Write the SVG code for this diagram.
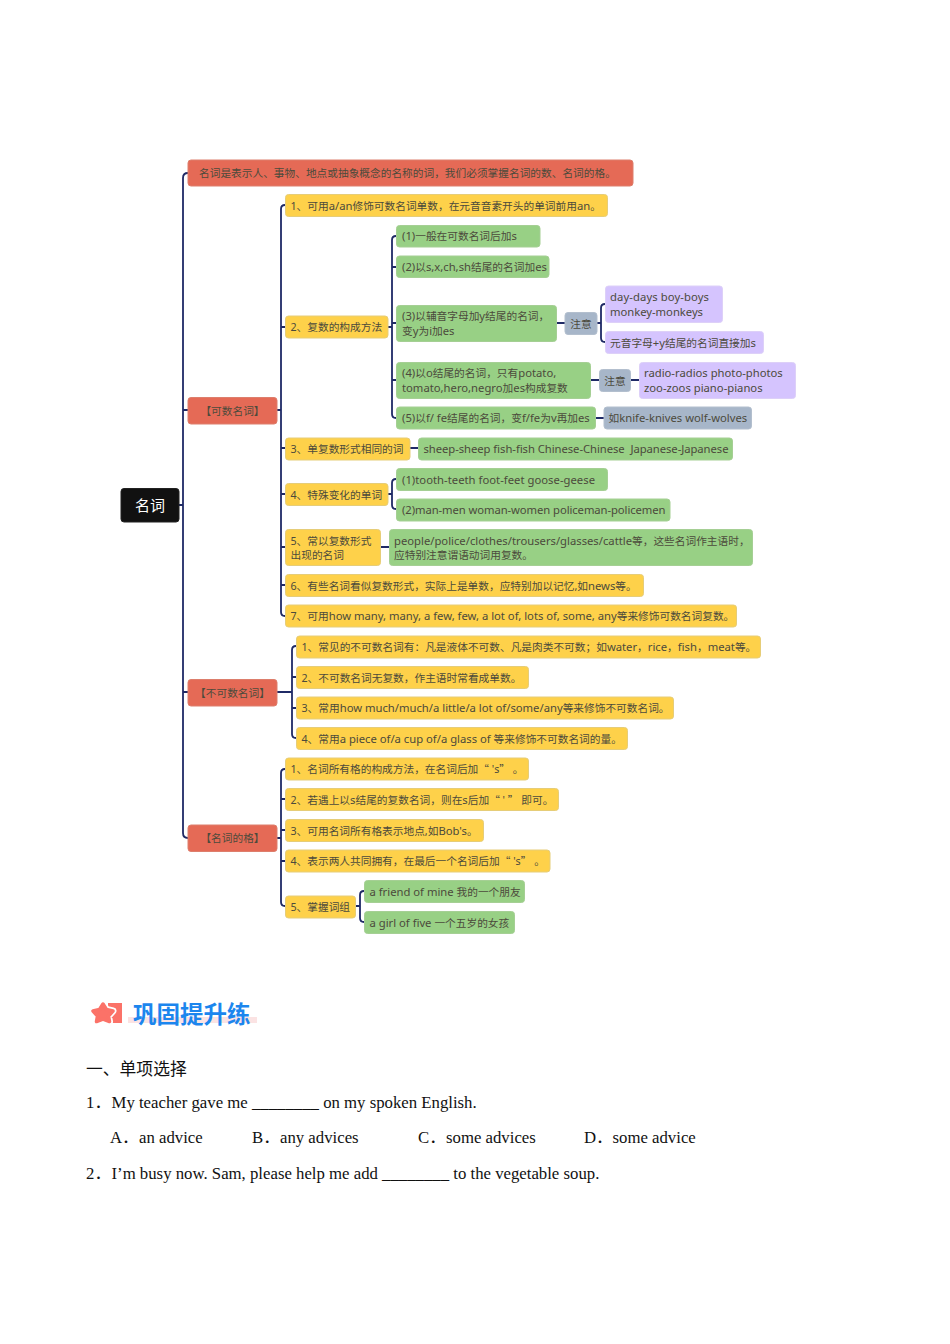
<svg xmlns="http://www.w3.org/2000/svg" width="950" height="1344" viewBox="0 0 950 1344">
<defs><path id="star" d="M103 1004L106.500 1009.500L113 1011L108.500 1016L109.500 1021.500L103 1019L96.500 1021.500L97.500 1016L93 1011L99.500 1009.500Z"/></defs>
<style>
text{font-family:"Noto Sans","Noto Sans CJK SC",sans-serif;font-size:10.7px;fill:#4c4a3c}
.l{font-size:11.25px}
.q{font-family:"Noto Sans CJK SC",sans-serif;font-size:10.7px}
.n{stroke-width:1}
.r{fill:#e56a56;stroke:#dd7e6c}
.y{fill:#fed14a;stroke:#e6cd78}
.g{fill:#98d085;stroke:#a5cf94}
.p{fill:#d5c4fe;stroke:#ddd0f8}
.s{fill:#a7b6c9;stroke:#b3bfce}
.k{fill:#111;stroke:#222}
#links path{fill:none;stroke:#1f2a66;stroke-width:1.8}
.b{font-family:"Liberation Serif","Noto Sans CJK SC",serif;font-size:16.75px;fill:#111}
.t{font-family:"Noto Sans CJK SC",sans-serif;font-size:16.8px;fill:#111}
</style>
<g id="links">
<path d="M179 505H183M188 173Q183 173 183 178V833Q183 838 188 838M183 410H188M183 692H188"/>
<path d="M277 410H281M285 205Q281 205 281 209V612Q281 616 285 616M281 327H285M281 448H285M281 494H285M281 547H285M281 585H285"/>
<path d="M388 327H392M396 236Q392 236 392 240V414Q392 418 396 418M392 267H396M392 323H396M392 380H396"/>
<path d="M556 323H565M597 323H601M605 304Q601 304 601 308V338Q601 342 605 342"/>
<path d="M591 380H599M631 380H639M595 418H604M410 448H418"/>
<path d="M388 494H392M396 479Q392 479 392 483V505Q392 509 396 509M381 547H389"/>
<path d="M277 692H292M296 646Q292 646 292 650V734Q292 738 296 738M292 677H296M292 708H296"/>
<path d="M277 838H281M285 769Q281 769 281 773V902Q281 906 285 906M281 799H285M281 830H285M281 861H285"/>
<path d="M356 906H360M364 891Q360 891 360 895V918Q360 922 364 922"/>
</g>
<g id="root"><rect class="n k" x="121" y="488.500" width="58" height="33.500" rx="3"/><text x="150" y="510.500" text-anchor="middle" style="font-size:15px;fill:#fff">名词</text></g>
<g id="def"><rect class="n r" x="188" y="160" width="445" height="26" rx="3"/><text x="199" y="176.500">名词是表示人、事物、地点或抽象概念的名称的词&#65292;我们必须掌握名词的数、名词的格。</text></g>
<g id="countable"><rect class="n r" x="188" y="397.500" width="89" height="26.500" rx="3"/><text x="232.500" y="414.500" text-anchor="middle">【可数名词】</text></g>
<g id="uncountable"><rect class="n r" x="188" y="679.500" width="89" height="26.500" rx="3"/><text x="232.500" y="696.500" text-anchor="middle">【不可数名词】</text></g>
<g id="possessive"><rect class="n r" x="188" y="825" width="89" height="26.500" rx="3"/><text x="232.500" y="841.500" text-anchor="middle">【名词的格】</text></g>
<g id="c1"><rect class="n y" x="285.500" y="194.500" width="322" height="22" rx="3"/><text x="290.500" y="209.500">1、可用<tspan class="l">a/an</tspan>修饰可数名词单数&#65292;在元音音素开头的单词前用<tspan class="l">an</tspan>。</text></g>
<g id="c2"><rect class="n y" x="285.500" y="316" width="102.500" height="22" rx="3"/><text x="290.500" y="331">2、复数的构成方法</text></g>
<g id="c21"><rect class="n g" x="396.500" y="225.500" width="143.500" height="21.500" rx="3"/><text x="402" y="240"><tspan class="l">(1)</tspan>一般在可数名词后加<tspan class="l">s</tspan></text></g>
<g id="c22"><rect class="n g" x="396.500" y="256" width="152.500" height="21.500" rx="3"/><text x="402" y="270.500"><tspan class="l">(2)</tspan>以<tspan class="l">s,x,ch,sh</tspan>结尾的名词加<tspan class="l">es</tspan></text></g>
<g id="c23"><rect class="n g" x="396.500" y="305.500" width="160" height="36" rx="3"/><text x="402" y="320"><tspan class="l">(3)</tspan>以辅音字母加<tspan class="l">y</tspan>结尾的名词&#65292;<tspan x="402" dy="14.500">变<tspan class="l">y</tspan>为<tspan class="l">i</tspan>加<tspan class="l">es</tspan></tspan></text></g>
<g id="c23n"><rect class="n s" x="565" y="312.500" width="32" height="22" rx="3"/><text x="581" y="327.500" text-anchor="middle">注意</text></g>
<g id="c23a"><rect class="n p" x="605.500" y="286" width="117" height="36.500" rx="3"/><text class="l" x="610" y="301" textLength="99">day-days boy-boys</text><text class="l" x="610" y="315.500" textLength="93">monkey-monkeys</text></g>
<g id="c23b"><rect class="n p" x="605.500" y="331.500" width="158" height="22" rx="3"/><text x="610" y="346.500">元音字母<tspan class="l">+y</tspan>结尾的名词直接加<tspan class="l">s</tspan></text></g>
<g id="c24"><rect class="n g" x="396.500" y="362.500" width="194" height="36" rx="3"/><text x="402" y="377"><tspan class="l">(4)</tspan>以<tspan class="l">o</tspan>结尾的名词&#65292;只有<tspan class="l">potato,</tspan><tspan x="402" dy="14.500" class="l">tomato,hero,negro<tspan style="font-size:10.7px">加</tspan>es<tspan style="font-size:10.7px">构成复数</tspan></tspan></text></g>
<g id="c24n"><rect class="n s" x="599.500" y="369.500" width="31" height="22" rx="3"/><text x="615" y="384.500" text-anchor="middle">注意</text></g>
<g id="c24a"><rect class="n p" x="639.500" y="362.500" width="156" height="36" rx="3"/><text class="l" x="644" y="377">radio-radios photo-photos<tspan x="644" dy="14.500">zoo-zoos piano-pianos</tspan></text></g>
<g id="c25"><rect class="n g" x="396.500" y="407" width="199" height="22" rx="3"/><text x="402" y="422"><tspan class="l">(5)</tspan>以<tspan class="l">f/ fe</tspan>结尾的名词&#65292;变<tspan class="l">f/fe</tspan>为<tspan class="l">v</tspan>再加<tspan class="l">es</tspan></text></g>
<g id="c25a"><rect class="n s" x="604" y="407" width="147.500" height="22" rx="3"/><text x="608.500" y="422">如<tspan class="l">knife-knives wolf-wolves</tspan></text></g>
<g id="c3"><rect class="n y" x="285.500" y="438" width="124.500" height="22" rx="3"/><text x="290.500" y="453">3、单复数形式相同的词</text></g>
<g id="c3a"><rect class="n g" x="418.500" y="438" width="314" height="22" rx="3"/><text class="l" x="423.500" y="453" xml:space="preserve" textLength="305">sheep-sheep fish-fish Chinese-Chinese  Japanese-Japanese</text></g>
<g id="c4"><rect class="n y" x="285.500" y="483.500" width="102.500" height="22" rx="3"/><text x="290.500" y="498.500">4、特殊变化的单词</text></g>
<g id="c41"><rect class="n g" x="396.500" y="468.500" width="211" height="22" rx="3"/><text class="l" x="402" y="483.500" textLength="193">(1)tooth-teeth foot-feet goose-geese</text></g>
<g id="c42"><rect class="n g" x="396.500" y="499" width="273.500" height="22" rx="3"/><text class="l" x="402" y="514" textLength="263.500">(2)man-men woman-women policeman-policemen</text></g>
<g id="c5"><rect class="n y" x="285.500" y="529.500" width="95" height="36" rx="3"/><text x="290.500" y="544.500">5、常以复数形式<tspan x="290.500" dy="14.500">出现的名词</tspan></text></g>
<g id="c5a"><rect class="n g" x="389.500" y="529.500" width="363" height="36" rx="3"/><text x="394" y="544.500"><tspan class="l">people/police/clothes/trousers/glasses/cattle</tspan>等&#65292;这些名词作主语时&#65292;<tspan x="394" dy="14.500">应特别注意谓语动词用复数。</tspan></text></g>
<g id="c6"><rect class="n y" x="285.500" y="574.500" width="358" height="22" rx="3"/><text x="290.500" y="589.500">6、有些名词看似复数形式&#65292;实际上是单数&#65292;应特别加以记忆,如<tspan class="l">news</tspan>等。</text></g>
<g id="c7"><rect class="n y" x="285.500" y="605" width="451" height="22" rx="3"/><text x="290.500" y="620">7、可用<tspan class="l">how many, many, a few, few, a lot of, lots of, some, any</tspan>等来修饰可数名词复数。</text></g>
<g id="u1"><rect class="n y" x="296.500" y="636" width="464" height="22" rx="3"/><text x="301.500" y="651">1、常见的不可数名词有&#65306;凡是液体不可数、凡是肉类不可数&#65307;如<tspan class="l">water</tspan>&#65292;<tspan class="l">rice</tspan>&#65292;<tspan class="l">fish</tspan>&#65292;<tspan class="l">meat</tspan>等。</text></g>
<g id="u2"><rect class="n y" x="296.500" y="666.500" width="232" height="22" rx="3"/><text x="301.500" y="681.500">2、不可数名词无复数&#65292;作主语时常看成单数。</text></g>
<g id="u3"><rect class="n y" x="296.500" y="697" width="377" height="22" rx="3"/><text x="301.500" y="712">3、常用<tspan class="l">how much/much/a little/a lot of/some/any</tspan>等来修饰不可数名词。</text></g>
<g id="u4"><rect class="n y" x="296.500" y="727.500" width="331" height="22" rx="3"/><text x="301.500" y="742.500">4、常用<tspan class="l">a piece of/a cup of/a glass of </tspan>等来修饰不可数名词的量。</text></g>
<g id="p1"><rect class="n y" x="285.500" y="758" width="243" height="22" rx="3"/><text x="290.500" y="773" xml:space="preserve">1、名词所有格的构成方法&#65292;在名词后加<tspan class="q">“</tspan> 's<tspan class="q">”</tspan> 。</text></g>
<g id="p2"><rect class="n y" x="285.500" y="788.500" width="273" height="22" rx="3"/><text x="290.500" y="803.500" xml:space="preserve">2、若遇上以<tspan class="l">s</tspan>结尾的复数名词&#65292;则在<tspan class="l">s</tspan>后加<tspan class="q">“</tspan> ' <tspan class="q">”</tspan> 即可。</text></g>
<g id="p3"><rect class="n y" x="285.500" y="819.500" width="198" height="22" rx="3"/><text x="290.500" y="834.500">3、可用名词所有格表示地点,如<tspan class="l">Bob's</tspan>。</text></g>
<g id="p4"><rect class="n y" x="285.500" y="850" width="264.500" height="22" rx="3"/><text x="290.500" y="865" xml:space="preserve">4、表示两人共同拥有&#65292;在最后一个名词后加<tspan class="q">“</tspan> 's<tspan class="q">”</tspan> 。</text></g>
<g id="p5"><rect class="n y" x="285.500" y="896" width="70" height="22" rx="3"/><text x="290.500" y="911">5、掌握词组</text></g>
<g id="p51"><rect class="n g" x="364.500" y="880.500" width="160" height="22" rx="3"/><text x="369.500" y="895.500"><tspan class="l">a friend of mine </tspan>我的一个朋友</text></g>
<g id="p52"><rect class="n g" x="364.500" y="911.500" width="150" height="22" rx="3"/><text x="369.500" y="926.500"><tspan class="l">a girl of five </tspan>一个五岁的女孩</text></g>
<rect x="128" y="1017" width="129" height="6" fill="#fbe3e3"/>
<rect x="108" y="1003" width="14" height="20" fill="#fb7268"/>
<use href="#star" fill="#fff" stroke="#fff" stroke-width="7" stroke-linejoin="round"/>
<use href="#star" fill="#fb7268" stroke="#fb7268" stroke-width="3.500" stroke-linejoin="round"/>
<text x="133" y="1023" style="font-family:'Noto Sans CJK SC',sans-serif;font-size:23.5px;font-weight:700;fill:#1c86ee">巩固提升练</text>
<text class="t" x="86" y="1075">一、单项选择</text>
<text class="b" x="86" y="1108">1&#65294;<tspan x="111.500">My teacher gave me ________ on my spoken English.</tspan></text>
<text class="b" y="1143"><tspan x="110">A&#65294;</tspan><tspan x="139">an advice</tspan><tspan x="252">B&#65294;</tspan><tspan x="280">any advices</tspan><tspan x="418">C&#65294;</tspan><tspan x="446">some advices</tspan><tspan x="584">D&#65294;</tspan><tspan x="612.500">some advice</tspan></text>
<text class="b" x="86" y="1178.500">2&#65294;<tspan x="111.500">I’m busy now. Sam, please help me add ________ to the vegetable soup.</tspan></text>
</svg>
